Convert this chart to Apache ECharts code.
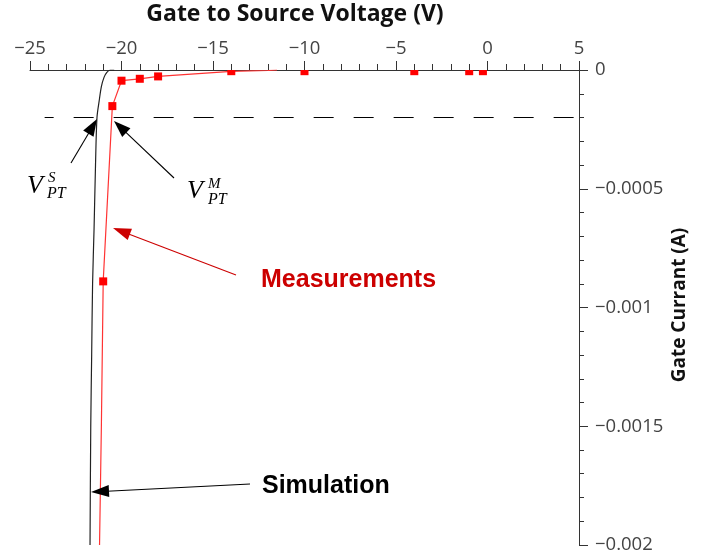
<!DOCTYPE html>
<html>
<head>
<meta charset="utf-8">
<script src="https://cdn.jsdelivr.net/npm/echarts@6/dist/echarts.min.js"></script>
<style>
  html, body { margin: 0; padding: 0; background: #fff; }
  #chart { width: 703px; height: 559px; }
</style>
</head>
<body>
<div id="chart"></div>
<script>
// Axis ranges and ticks
const xTicks = [-25, -20, -15, -10, -5, 0, 5];
const yTicks = [-0.002, -0.0015, -0.001, -0.0005, 0];

// Simulated gate current vs gate-source voltage
const simV = [-21.72, -21.68, -21.63, -21.58, -21.5, -21.42, -21.34, -21.22, -21.1, -20.95, -20.8, -20.62, -20.4];
const simI = [-0.002, -0.0015, -0.0012, -0.0009, -0.00067, -0.0004, -0.0002, -0.00013, -0.00007, -0.00003, -0.00001, 0, 0];

// Measured points
const measV = [-21.0, -20.5, -20, -19, -18, -14, -10, -4, -1, -0.25];
const measI = [-0.00089, -0.000152, -0.000045, -0.000037, -0.000027, -0.000005, -0.000005, -0.000005, -0.000005, -0.000005];

// Trace joining the measurements
const traceV = [-21.2, -21.1, -21.0, -20.5, -20, -19, -18, -14, -12, -11.5];
const traceI = [-0.002, -0.0015, -0.00089, -0.000152, -0.000045, -0.000037, -0.000027, -0.000006, -0.000002, 0];

// Punch-through threshold level
const thresholdV = [-24.2, 5];
const thresholdI = [-0.0002, -0.0002];

const zip = (a, b) => a.map((v, i) => [v, b[i]]);
const minus = v => (v < 0 ? '\u2212' + String(Math.abs(v)) : String(v));

const chart = echarts.init(document.getElementById('chart'), null, { renderer: 'canvas' });

function arrow(tail, tip, color, len, half) {
  const dx = tip[0] - tail[0], dy = tip[1] - tail[1];
  const d = Math.hypot(dx, dy), ux = dx / d, uy = dy / d;
  const bx = tip[0] - ux * len, by = tip[1] - uy * len;
  return [
    { type: 'polyline', shape: { points: [tail, [bx + ux * 2, by + uy * 2]] },
      style: { stroke: color, lineWidth: 1.1, fill: null }, z: 50 },
    { type: 'polygon', shape: { points: [tip, [bx - uy * half, by + ux * half], [bx + uy * half, by - ux * half]] },
      style: { fill: color }, z: 50 }
  ];
}

const serif = '"Liberation Serif", "DejaVu Serif", serif';
function label(text, x, y, size) {
  return { type: 'text', x: x, y: y, z: 50,
    style: { text: text, font: 'italic ' + size + 'px ' + serif, fill: '#000', align: 'left', verticalAlign: 'middle' } };
}

const graphics = [
  { type: 'text', x: 295, y: 14, z: 50,
    style: { text: 'Gate to Source Voltage (V)', font: 'bold 23px "Open Sans"', fill: '#111', align: 'center', verticalAlign: 'middle' } },
  { type: 'text', x: 680, y: 305, rotation: Math.PI / 2, z: 50,
    style: { text: 'Gate Currant (A)', font: 'bold 19px "Open Sans"', fill: '#111', align: 'center', verticalAlign: 'middle' } },
  label('V', 27, 186, 26), label('S', 48, 178, 15), label('PT', 47, 194, 16),
  label('V', 187, 191, 26), label('M', 208, 184.5, 15), label('PT', 208, 199.5, 16),
  { type: 'text', x: 261, y: 280, z: 50,
    style: { text: 'Measurements', font: 'bold 25px "Liberation Sans", Arial, sans-serif', fill: '#cc0000', align: 'left', verticalAlign: 'middle' } },
  { type: 'text', x: 262, y: 486, z: 50,
    style: { text: 'Simulation', font: 'bold 25px "Liberation Sans", Arial, sans-serif', fill: '#000', align: 'left', verticalAlign: 'middle' } }
]
  .concat(arrow([71, 163], [97, 119], '#000', 17, 6))
  .concat(arrow([174, 178], [114, 121], '#000', 17, 6))
  .concat(arrow([236, 275], [113, 228], '#cc0000', 18, 6))
  .concat(arrow([250, 484], [91, 492], '#000', 18, 6));

chart.setOption({
  animation: false,
  backgroundColor: '#fff',
  grid: { left: 30, right: 124, top: 70, bottom: 14, containLabel: false },
  xAxis: {
    type: 'value', position: 'top',
    min: xTicks[0], max: xTicks[xTicks.length - 1], interval: xTicks[1] - xTicks[0],
    axisLine: { show: true, onZero: false, lineStyle: { color: '#333', width: 1 } },
    axisTick: { show: true, inside: false, length: 9, lineStyle: { color: '#333' } },
    minorTick: { show: true, splitNumber: 5, length: 6, lineStyle: { color: '#333' } },
    axisLabel: { formatter: minus, fontFamily: 'Open Sans', fontSize: 18.5, color: '#444', margin: 12 },
    splitLine: { show: false }
  },
  yAxis: {
    type: 'value', position: 'right',
    min: yTicks[0], max: yTicks[yTicks.length - 1], interval: yTicks[1] - yTicks[0],
    axisLine: { show: true, onZero: false, lineStyle: { color: '#333', width: 1 } },
    axisTick: { show: true, inside: false, length: 9, lineStyle: { color: '#333' } },
    minorTick: { show: true, splitNumber: 5, length: 5, lineStyle: { color: '#333' } },
    axisLabel: { formatter: minus, fontFamily: 'Open Sans', fontSize: 18.5, color: '#444', margin: 16 },
    splitLine: { show: false }
  },
  series: [
    {
      name: 'threshold', type: 'line', data: zip(thresholdV, thresholdI), symbol: 'none', z: 1,
      lineStyle: { color: '#000', width: 1, type: [20, 20], dashOffset: 11 }
    },
    {
      name: 'Simulation', type: 'line', data: zip(simV, simI), symbol: 'none', smooth: 0.3, z: 3,
      lineStyle: { color: '#222', width: 1.2 }
    },
    {
      name: 'trace', type: 'line', data: zip(traceV, traceI), symbol: 'none', z: 4,
      lineStyle: { color: '#ff3333', width: 1.2 }
    },
    {
      name: 'Measurements', type: 'custom', data: zip(measV, measI), z: 5, clip: true,
      renderItem: function (params, api) {
        const p = api.coord([api.value(0), api.value(1)]);
        const s = 8;
        const cs = params.coordSys;
        const shape = echarts.graphic.clipRectByRect(
          { x: p[0] - s / 2, y: p[1] - s / 2, width: s, height: s },
          { x: cs.x, y: cs.y, width: cs.width, height: cs.height });
        return shape && { type: 'rect', shape: shape, style: { fill: '#ff0000' } };
      }
    }
  ],
  graphic: graphics
});
</script>
</body>
</html>
